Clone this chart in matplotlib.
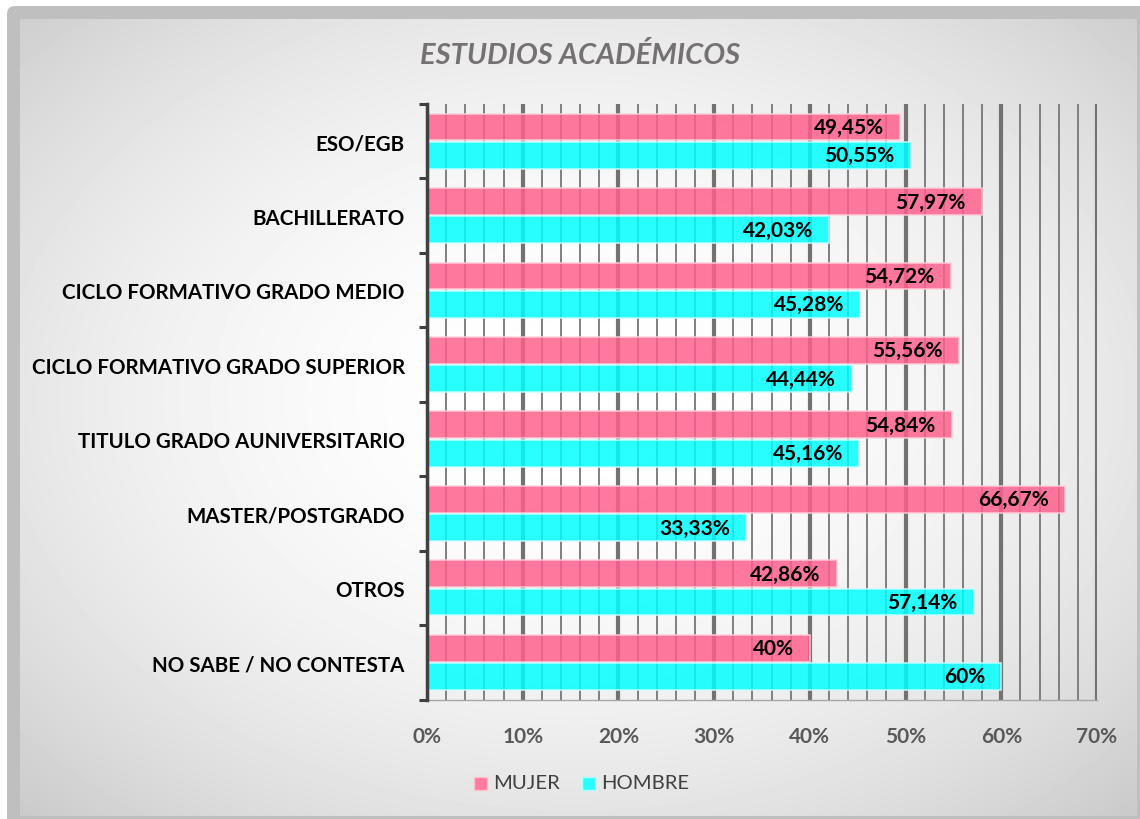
import matplotlib
matplotlib.use('Agg')
import matplotlib.pyplot as plt
from matplotlib.patches import FancyBboxPatch, Rectangle
from matplotlib.ticker import MultipleLocator, FixedLocator
import numpy as np

categorias = ['ESO/EGB', 'BACHILLERATO', 'CICLO FORMATIVO GRADO MEDIO',
              'CICLO FORMATIVO GRADO SUPERIOR', 'TITULO GRADO AUNIVERSITARIO',
              'MASTER/POSTGRADO', 'OTROS', 'NO SABE / NO CONTESTA']
mujer = [49.45, 57.97, 54.72, 55.56, 54.84, 66.67, 42.86, 40]
hombre = [50.55, 42.03, 45.28, 44.44, 45.16, 33.33, 57.14, 60]
etiq_mujer = ['49,45%', '57,97%', '54,72%', '55,56%', '54,84%', '66,67%', '42,86%', '40%']
etiq_hombre = ['50,55%', '42,03%', '45,28%', '44,44%', '45,16%', '33,33%', '57,14%', '60%']
xticks = [0, 10, 20, 30, 40, 50, 60, 70]

W, H = 1140, 820
fig = plt.figure(figsize=(W / 100, H / 100), dpi=100)
fig.patch.set_facecolor('white')

# fondo con degradado radial y marco gris
bg = fig.add_axes([0, 0, 1, 1], zorder=-10)
bg.set_xlim(0, W)
bg.set_ylim(H, 0)
bg.axis('off')
bg.add_patch(FancyBboxPatch((7, 7), W + 20, H + 20, boxstyle='round,pad=0,rounding_size=8',
                            fc='#bfbfbf', ec='none', zorder=1))
xx, yy = np.meshgrid(np.arange(20, W - 3), np.arange(20, H - 3))
d2 = ((xx - 575) / 570.0) ** 2 + ((yy - 400) / 410.0) ** 2
val = np.clip(1 - 0.105 * d2, 0, 1)
bg.imshow(val, cmap='gray', vmin=0, vmax=1, extent=(20, W - 3, H - 3, 20), aspect='auto',
          zorder=2)

ax = fig.add_axes([427 / W, 1 - 700.5 / H, (1097 - 427) / W, (700.5 - 105) / H])
ax.set_facecolor('none')

y = np.arange(len(categorias))
h = 0.36
off = 0.19
ax.barh(y - off, mujer, height=h, color='#ff5f8b', alpha=0.84, edgecolor='#ffd0dc',
        linewidth=1.2, zorder=3)
ax.barh(y + off, hombre, height=h, color='#00ffff', alpha=0.84, edgecolor='#c8ffff',
        linewidth=1.2, zorder=3)

lab = dict(ha='right', va='center', fontsize=15, fontweight='bold', color='black',
           family='Lato', zorder=5)
for i in range(len(categorias)):
    ax.text(mujer[i] - 1.7, y[i] - off, etiq_mujer[i], **lab)
    ax.text(hombre[i] - 1.7, y[i] + off, etiq_hombre[i], **lab)

ax.set_xlim(0, 70)
ax.set_ylim(len(categorias) - 0.5, -0.5)

ax.xaxis.set_major_locator(FixedLocator(xticks))
ax.xaxis.set_minor_locator(MultipleLocator(2))
ax.set_xticklabels([f'{v}%' for v in xticks])
ax.grid(True, axis='x', which='major', color='#767171', linewidth=3, zorder=1)
ax.grid(True, axis='x', which='minor', color='#7f7f7f', linewidth=1.4, zorder=1)
ax.tick_params(axis='x', which='both', length=0, pad=19, labelsize=15, labelcolor='#595959')
for t in ax.get_xticklabels():
    t.set_fontweight('bold')
    t.set_family('Lato')

ax.set_yticks(y)
ax.set_yticklabels(categorias)
ax.yaxis.set_minor_locator(FixedLocator(np.arange(-0.5, len(categorias), 1)))
ax.tick_params(axis='y', which='major', length=0, pad=16, labelsize=14.8, labelcolor='black')
ax.tick_params(axis='y', which='minor', length=6, width=2.2, color='#404040', direction='out')
for t in ax.get_yticklabels():
    t.set_fontweight('bold')
    t.set_family('Lato')

for s in ['top', 'right']:
    ax.spines[s].set_visible(False)
ax.spines['left'].set_color('#404040')
ax.spines['left'].set_linewidth(2.5)
ax.spines['left'].set_zorder(4)
ax.spines['bottom'].set_color('#a6a6a6')
ax.spines['bottom'].set_linewidth(1)

fig.text(580 / W, 1 - 55 / H, 'ESTUDIOS ACADÉMICOS', ha='center', va='center',
         fontsize=21, fontweight='bold', style='italic', color='#757171', family='Lato')

# leyenda
fig.add_artist(Rectangle((474 / W, 1 - 791 / H), 13 / W, 13 / H, transform=fig.transFigure,
                         fc='#ff7a9e', ec='#ffc0d0', lw=1))
fig.text(493 / W, 1 - 784 / H, 'MUJER', ha='left', va='center', fontsize=14.6,
         color='#404040', family='Lato')
fig.add_artist(Rectangle((582 / W, 1 - 791 / H), 13 / W, 13 / H, transform=fig.transFigure,
                         fc='#27ffff', ec='#b0ffff', lw=1))
fig.text(601 / W, 1 - 784 / H, 'HOMBRE', ha='left', va='center', fontsize=14.6,
         color='#404040', family='Lato')

fig.savefig('out.png', dpi=100)
